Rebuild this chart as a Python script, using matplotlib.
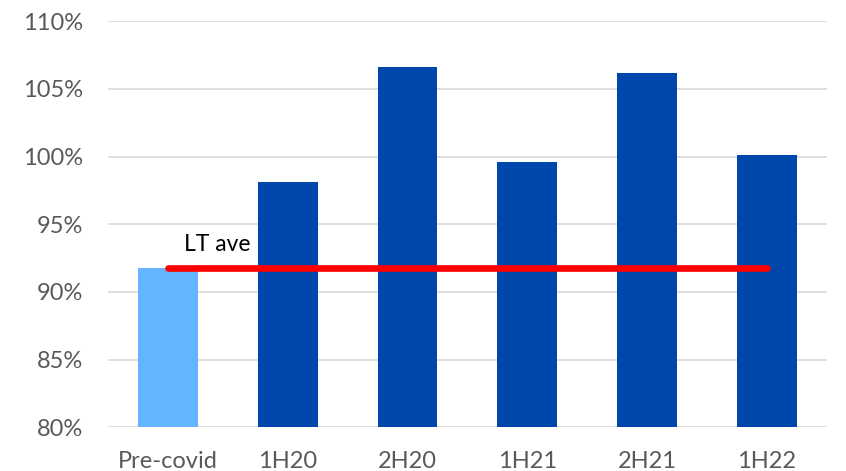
import matplotlib.pyplot as plt
from matplotlib.ticker import FuncFormatter

# Half-year values as a percentage
periods = ['Pre-covid', '1H20', '2H20', '1H21', '2H21', '1H22']
values = [91.8, 98.1, 106.6, 99.6, 106.2, 100.1]
lt_average = 91.8

plt.rcParams['font.family'] = ['Lato', 'DejaVu Sans']

fig = plt.figure(figsize=(8.46, 4.71), dpi=100)
ax = fig.add_axes([0.128, 0.093, 0.849, 0.862])

colors = ['#63B5FF'] + ['#0047AB'] * (len(periods) - 1)
x = range(len(periods))
ax.bar(x, values, width=0.5, color=colors, zorder=2)

# Long-term average line across the bars
ax.plot([0, len(periods) - 1], [lt_average, lt_average], color='#FF0000',
        linewidth=4.8, solid_capstyle='round', zorder=3)
ax.text(0.13, lt_average + 0.9, 'LT ave', fontsize=16.5, color='black',
        va='bottom', ha='left', zorder=4)

ax.set_ylim(80, 110)
ax.set_xlim(-0.5, len(periods) - 0.5)
ax.set_yticks(range(80, 111, 5))
ax.yaxis.set_major_formatter(FuncFormatter(lambda v, _: f'{v:.0f}%'))
ax.set_xticks(list(x))
ax.set_xticklabels(periods)

ax.grid(axis='y', color='#D9D9D9', linewidth=1.2, zorder=0)
for side in ['top', 'right', 'left', 'bottom']:
    ax.spines[side].set_visible(False)
ax.tick_params(axis='both', length=0, labelsize=17, labelcolor='#595959')
ax.tick_params(axis='y', pad=18)
ax.tick_params(axis='x', pad=17)

fig.savefig('out.png', dpi=100)
